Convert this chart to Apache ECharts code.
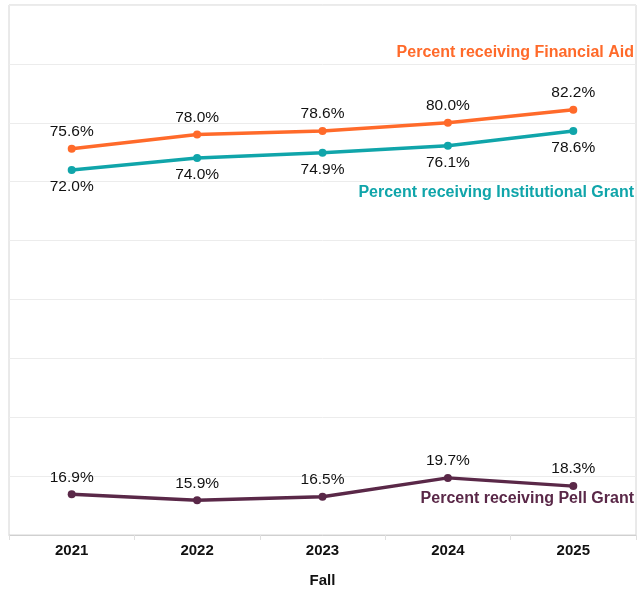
<!DOCTYPE html>
<html>
<head>
<meta charset="utf-8">
<script src="https://cdn.jsdelivr.net/npm/echarts@6/dist/echarts.min.js"></script>
<style>
  html, body { margin: 0; padding: 0; background: #fff; }
  #main { width: 637px; height: 589px; }
</style>
</head>
<body>
<div id="main"></div>
<script>
var years = ['2021', '2022', '2023', '2024', '2025'];
var financialAid = [75.6, 78.0, 78.6, 80.0, 82.2];
var institutionalGrant = [72.0, 74.0, 74.9, 76.1, 78.6];
var pellGrant = [16.9, 15.9, 16.5, 19.7, 18.3];

var orange = '#FF6A2A';
var teal = '#10A5AA';
var plum = '#5A2848';
var font = 'Liberation Sans, Arial, sans-serif';

var myChart = echarts.init(document.getElementById('main'));

function lineSeries(name, data, color, pos) {
    return {
        name: name,
        type: 'line',
        data: data,
        symbol: 'circle',
        symbolSize: 8,
        lineStyle: { color: color, width: 3.5 },
        itemStyle: { color: color },
        label: {
            show: true,
            position: pos,
            distance: 5,
            color: '#111',
            fontSize: 15.5,
            fontFamily: font,
            formatter: function (p) { return p.value.toFixed(1) + '%'; }
        },
        animation: false
    };
}

var option = {
    grid: {
        left: 9, right: 1, top: 5, bottom: 54,
        containLabel: false, outerBoundsMode: 'none',
        show: true, borderColor: '#d4d4d4', borderWidth: 1
    },
    xAxis: {
        type: 'category',
        data: years,
        boundaryGap: true,
        name: 'Fall',
        nameLocation: 'middle',
        nameGap: 38,
        nameTextStyle: { fontWeight: 'bold', fontSize: 15, color: '#111', fontFamily: font },
        axisLine: { lineStyle: { color: '#d0d0d0' } },
        axisTick: { show: true, length: 5, lineStyle: { color: '#e0e0e0' } },
        axisLabel: { fontWeight: 'bold', fontSize: 15, color: '#111', fontFamily: font, margin: 8 }
    },
    yAxis: {
        type: 'value',
        min: 10,
        max: 100,
        interval: 10,
        axisLabel: { show: false },
        axisLine: { show: false },
        axisTick: { show: false },
        splitLine: { lineStyle: { color: '#ececec' } }
    },
    graphic: [
        { type: 'text', right: 3, top: 45, style: { text: 'Percent receiving Financial Aid', fill: orange, font: 'bold 16px ' + font } },
        { type: 'text', right: 3, top: 185, style: { text: 'Percent receiving Institutional Grant', fill: teal, font: 'bold 16px ' + font } },
        { type: 'text', right: 3, top: 491, style: { text: 'Percent receiving Pell Grant', fill: plum, font: 'bold 16px ' + font } }
    ],
    series: [
        lineSeries('Percent receiving Financial Aid', financialAid, orange, 'top'),
        lineSeries('Percent receiving Institutional Grant', institutionalGrant, teal, 'bottom'),
        lineSeries('Percent receiving Pell Grant', pellGrant, plum, 'top')
    ]
};
myChart.setOption(option);
</script>
</body>
</html>
